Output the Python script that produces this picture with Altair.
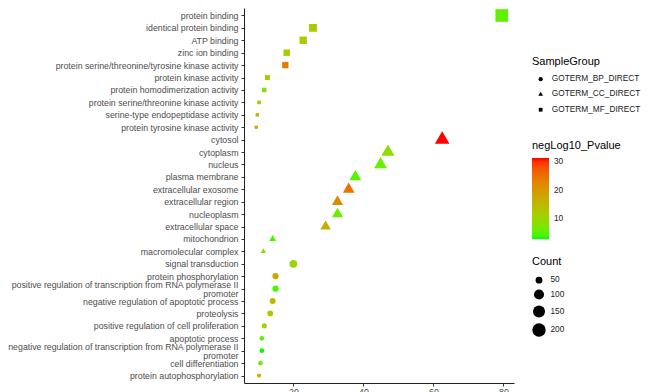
import altair as alt
import pandas as pd

terms = [
    "protein binding",
    "identical protein binding",
    "ATP binding",
    "zinc ion binding",
    "protein serine/threonine/tyrosine kinase activity",
    "protein kinase activity",
    "protein homodimerization activity",
    "protein serine/threonine kinase activity",
    "serine-type endopeptidase activity",
    "protein tyrosine kinase activity",
    "cytosol",
    "cytoplasm",
    "nucleus",
    "plasma membrane",
    "extracellular exosome",
    "extracellular region",
    "nucleoplasm",
    "extracellular space",
    "mitochondrion",
    "macromolecular complex",
    "signal transduction",
    "protein phosphorylation",
    "positive regulation of transcription from RNA polymerase II\npromoter",
    "negative regulation of apoptotic process",
    "proteolysis",
    "positive regulation of cell proliferation",
    "apoptotic process",
    "negative regulation of transcription from RNA polymerase II\npromoter",
    "cell differentiation",
    "protein autophosphorylation",
]
groups = ["GOTERM_MF_DIRECT"] * 10 + ["GOTERM_CC_DIRECT"] * 10 + ["GOTERM_BP_DIRECT"] * 10
percent = [79.5, 25.6, 22.8, 18.1, 17.7, 12.6, 11.7, 10.2, 9.7, 9.4,
           62.5, 47.0, 44.9, 37.7, 35.8, 32.6, 32.6, 29.2, 14.1, 11.4,
           20.0, 14.9, 14.9, 14.1, 13.4, 11.7, 11.0, 11.0, 10.6, 10.2]
count = [237, 76, 68, 54, 53, 38, 35, 30, 29, 28,
         186, 140, 134, 112, 107, 97, 97, 87, 42, 34,
         60, 44, 44, 42, 40, 35, 33, 33, 32, 30]
neglog = [5.5, 12, 12, 12, 24, 12, 8, 11, 15, 18,
          31.4, 9, 6, 5, 25, 22, 6, 17, 4, 8,
          11, 17, 4.5, 15, 13, 11, 5.5, 3.0, 7.5, 16]
group_order = ["GOTERM_BP_DIRECT", "GOTERM_CC_DIRECT", "GOTERM_MF_DIRECT"]

df = pd.DataFrame({
    "Term": terms,
    "SampleGroup": groups,
    "Percent": percent,
    "Count": count,
    "negLog10_Pvalue": neglog,
})

tri = "M0,-1.29L1.12,0.65L-1.12,0.65Z"
sq = "M-0.886,-0.886L0.886,-0.886L0.886,0.886L-0.886,0.886Z"

FONT = "Liberation Sans"
LEG_FS = 8.3

chart = alt.Chart(df).mark_point(filled=True, opacity=1, strokeWidth=0).encode(
    x=alt.X("Percent:Q",
            scale=alt.Scale(domain=[5.9, 83], nice=False, zero=False),
            axis=alt.Axis(values=[20, 40, 60, 80], title=None, grid=False,
                          tickSize=3, labelPadding=1, labelFontSize=8.8,
                          labelColor="#4D4D4D", domainColor="#222222",
                          tickColor="#333333", labelFont=FONT)),
    y=alt.Y("Term:N", sort=terms,
            scale=alt.Scale(type="point", padding=0.6),
            axis=alt.Axis(title=None, grid=False, tickSize=3, labelPadding=3,
                          labelFontSize=8.8, labelColor="#4D4D4D",
                          domainColor="#222222", tickColor="#333333",
                          labelFont=FONT, labelLineHeight=9,
                          labelExpr="split(datum.label, '\\n')",
                          labelOffset={"condition": {"test": "indexof(datum.label, '\\n') >= 0",
                                                     "value": -4.5},
                                       "value": 0},
                          labelLimit=0)),
    color=alt.Color("negLog10_Pvalue:Q",
                    scale=alt.Scale(domain=[3, 31.4], range=["#00FF00", "#FF0000"],
                                    interpolate="lab"),
                    legend=alt.Legend(title="negLog10_Pvalue", orient="none",
                                      legendX=288, legendY=132,
                                      direction="vertical",
                                      gradientLength=81, gradientThickness=17,
                                      values=[10, 20, 30], labelFontSize=LEG_FS,
                                      labelOffset=5, titleFontSize=11,
                                      titleFontWeight="normal", titlePadding=7,
                                      titleFont=FONT, labelFont=FONT,
                                      labelColor="#222222", titleColor="black",
                                      gradientStrokeWidth=0)),
    size=alt.Size("Count:Q",
                  scale=alt.Scale(type="sqrt", domain=[28, 237], range=[13.7, 204]),
                  legend=alt.Legend(title="Count", orient="none",
                                    legendX=288, legendY=248,
                                    values=[50, 100, 150, 200],
                                    symbolType="circle",
                                    symbolFillColor="black",
                                    symbolStrokeWidth=0,
                                    symbolOffset=0,
                                    labelOffset=4.5,
                                    rowPadding=5,
                                    labelFontSize=LEG_FS, titleFontSize=11,
                                    titleFontWeight="normal", titlePadding=9,
                                    titleFont=FONT, labelFont=FONT,
                                    labelColor="#222222", titleColor="black")),
    shape=alt.Shape("SampleGroup:N",
                    scale=alt.Scale(domain=group_order, range=["circle", tri, sq]),
                    legend=alt.Legend(title="SampleGroup", orient="none",
                                      legendX=288, legendY=48,
                                      symbolSize=18,
                                      symbolFillColor="black",
                                      symbolStrokeWidth=0,
                                      symbolOffset=4.5,
                                      labelOffset=7,
                                      rowPadding=6.3,
                                      labelFontSize=LEG_FS, titleFontSize=11,
                                      titleFontWeight="normal", titlePadding=8,
                                      titleFont=FONT, labelFont=FONT,
                                      labelColor="#222222", titleColor="black")),
).properties(
    width=270, height=375,
    padding={"left": 236, "top": 0, "right": 127, "bottom": 9},
    autosize=alt.AutoSizeParams(type="none"),
).configure_view(stroke=None)

chart.save("out.html", embed_options={"renderer": "svg", "actions": False})
